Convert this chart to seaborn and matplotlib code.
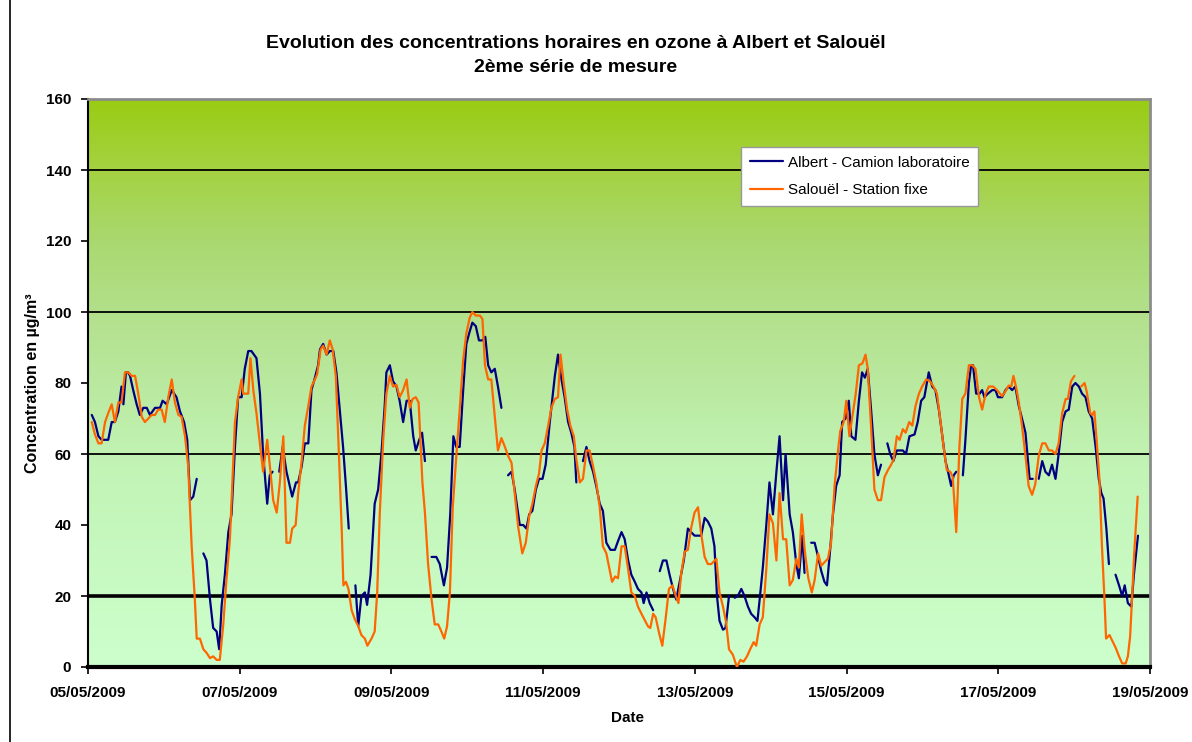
"""
Hourly ozone concentrations at Albert and Salouel, 2nd measurement series
"""
import numpy as np
import pandas as pd
import seaborn as sns
import matplotlib.pyplot as plt
import matplotlib.dates as mdates
from matplotlib.colors import LinearSegmentedColormap
from matplotlib.lines import Line2D


START = pd.Timestamp('2009-05-05')
END = pd.Timestamp('2009-05-19')

# hours after 05/05/2009 00:00 ; None marks a gap in the record
ALBERT_HOURS = [
    1.2, 2.2, 3.3, 4.3, 6.4, 7.5, 8.5, 9.6, 10.6, 11.2, 12.0, 12.7, 13.3, 14.3, 15.4, 16.4,
    17.5, 18.6, 19.6, 21.2, 22.8, 23.6, 24.9, 26.5, 28.0, 29.1, 30.4, 31.4, 32.3, 33.3, 34.4, None,
    36.5, 37.5, 38.6, 39.6, 40.7, 41.5, 42.3, 43.3, 44.4, 45.4, 46.5, 47.5, 48.6, 49.6, 50.7, 51.7,
    53.3, 54.4, 55.4, 56.7, 57.5, 58.4, None,
    60.5, 61.6, 62.8, 64.6, 65.8, 66.5, 67.6, 68.6, 69.7, 70.7, 71.8, 72.8, 73.4, 74.4, 75.5, 76.5,
    77.6, 78.6, 79.7, 80.7, 81.6, 82.5, None,
    84.6, 85.5, 86.5, 87.6, 88.3, 89.4, 90.7, 91.8, 92.9, 93.9, 94.4, 95.5, 96.5, 97.6, 98.6, 99.7,
    100.8, 101.8, 102.9, 103.7, 104.8, 105.7, 106.6, None,
    108.7, 110.2, 111.3, 112.6, 113.6, 114.6, 115.6, 116.5, 117.6, 118.7, 119.7, 120.6, 121.6, 122.7,
    123.7, 124.8, 125.7, 126.6, 127.6, 128.7, 129.7, 130.8, None,
    132.9, 134.0, 135.0, 136.6, 137.7, 138.7, 139.6, 140.6, 141.7, 142.7, 143.8, 144.8, 146.1, 147.7,
    148.7, 149.8, 150.8, 151.9, 152.9, 153.9, 154.5, None,
    156.6, 157.7, 158.7, 159.8, 160.8, 161.9, 162.9, 164.0, 165.3, 166.7, 167.7, 168.8, 169.8, 170.9,
    171.9, 173.0, 174.0, 175.1, 175.8, 176.7, 177.7, 178.8, None,
    180.9, 181.9, 183.0, 184.0, 185.1, 186.1, 187.2, 188.5, 189.8, 190.8, 191.9, 194.0, 195.1, 196.1,
    197.2, 198.2, 199.0, 199.8, 200.9, 201.7, 202.8, None,
    204.6, 205.6, 206.7, 207.7, 208.8, 209.8, 210.9, 211.8, 212.5, 213.5, 214.6, 215.6, 216.7, 217.8,
    218.8, 219.9, 220.7, 222.0, 223.0, 224.1, 224.9, 226.0, 226.7, None,
    228.8, 229.9, 231.0, 232.0, 233.0, 233.8, 234.8, 235.7, 236.7, 237.8, 238.6, 239.7, 240.7, 241.5,
    242.8, 243.9, 244.9, 245.8, 246.7, 247.8, 248.8, 249.9, 250.9, None,
    252.9, 253.8, 254.8, 255.9, 257.8, 258.8, 259.9, 261.5, 262.5, 263.6, 264.6, 266.0, 267.1, 268.1,
    269.2, 270.3, 271.3, 272.1, 273.1, 273.9, 274.7, None,
    276.8, 277.6, 278.7, 279.4, 280.0, 281.0, 282.1, 282.9, 283.6, 284.7, 286.1, 287.1, 287.9, 289.2,
    290.3, 291.3, 292.4, 293.4, 294.5, 295.5, 296.6, 297.3, 297.9, 298.9, None,
    300.8, 301.9, 302.9, 304.0, 305.0, 306.1, 307.1, 308.2, 309.3, 310.3, 311.4, 312.4, 313.5, 314.5,
    315.6, 316.6, 317.7, 318.8, 319.8, 320.6, 321.3, 322.2, 323.0, None,
    325.1, 326.2, 327.2, 328.0, 329.0, 330.1, 330.9, 332.2,
]
ALBERT_VALUES = [
    71, 69, 65, 64, 64, 69, 69, 72, 79, 74, 83, 83, 82, 78, 74, 71,
    73, 73, 71, 73, 73, 75, 74, 78, 76, 72, 69, 64, 47, 48, 53, None,
    32, 30, 19, 11, 10, 5, 17.5, 26, 38, 43, 62, 76, 76, 84, 89, 89,
    87, 77, 60, 46, 54, 55, None,
    55, 62, 55, 48, 52, 52, 56.5, 63, 63, 78, 81.5, 85, 89.5, 91, 88, 89,
    89, 83, 72, 62, 51, 39, None,
    23, 11.5, 20, 21, 17.5, 26, 46, 50, 61, 74, 83, 85, 80.5, 79, 75, 69,
    75, 75, 65, 61, 64, 66, 58, None,
    31, 31, 29, 23, 28, 43, 65, 62, 62, 78, 91, 94, 97, 96,
    92, 92, 93, 85, 83, 84, 79, 73, None,
    54, 55, 50, 40, 40, 39, 43, 44, 50, 53, 53, 57, 69, 82,
    88, 81, 76, 69, 66, 62, 52, None,
    58, 62, 58, 55, 51, 46, 44, 35, 33, 33, 35.5, 38, 36, 30,
    26, 24, 22, 21, 18, 21, 18, 16, None,
    27, 30, 30, 26, 22, 19, 24, 30, 39, 38, 37, 37, 42, 41,
    39, 34, 20, 13, 10.5, 11, 20, None,
    19.5, 20, 22, 20, 17, 15, 14, 13, 19, 28, 40, 52, 43, 55,
    65, 47, 60, 43, 38, 29, 25, 37, 26.5, None,
    35, 35, 31, 27, 24, 23, 33, 43, 51, 54, 69, 70, 75, 65,
    64, 75, 83, 81.5, 84, 72, 60, 54, 57, None,
    63, 60, 58, 61, 61, 60, 65, 65.5, 69, 75, 76, 83, 79, 78,
    72.5, 65, 58, 55, 51, 54, 55, None,
    54, 64, 80, 85, 85, 77, 77, 78, 76, 77, 78, 78, 76, 76,
    78, 79, 78, 79, 73.5, 70, 66, 59, 53, 53, None,
    53, 58, 55, 54, 57, 53, 60, 69, 72, 72.5, 79, 80, 79, 77,
    76, 72, 70, 62, 53, 49, 47.5, 39, 29, None,
    26, 23, 20, 23, 18, 17, 26, 37,
]

SALOUEL_HOURS = [
    1.2, 2.2, 3.3, 4.3, 5.4, 6.4, 7.5, 8.5, 9.6, 10.6, 11.7, 12.8, 13.8, 14.9, 15.9, 17.0, 18.0,
    19.1, 20.1, 21.2, 22.2, 23.3, 24.3, 25.4, 26.5, 27.5, 28.6, 29.6, 30.7, 31.7, 32.8, 33.8, 34.4,
    35.4, 36.5, 37.5, 38.6, 39.6, 40.7, 41.7, 42.8, 43.8, 44.9, 45.9, 46.5, 47.5, 48.6, 49.1, 50.2,
    50.7, 51.4, 52.3, 53.3, 54.4, 55.4, 56.7, 57.5, 58.6, 59.7, 60.7, 61.8, 62.8, 63.9, 64.6, 65.7,
    66.5, 67.6, 68.6, 69.7, 70.7, 71.8, 72.5, 73.6, 74.4, 75.5, 76.5, 77.4, 78.4, 79.3, 80.3, 80.8,
    81.6, 82.4, 83.4, 84.4, 85.5, 86.5, 87.6, 88.4, 89.7, 90.7, 91.5, 92.3, 93.4, 94.4, 95.5, 96.5,
    97.6, 98.6, 99.7, 100.8, 101.8, 102.7, 103.7, 104.6, 105.0, 105.8, 106.6, 107.6, 108.7, 109.7,
    110.8, 111.8, 112.7, 113.6, 114.5, 115.4, 116.5, 117.6, 118.7, 119.7, 120.8, 121.6, 122.7, 124.0,
    124.8, 125.6, 126.6, 127.6, 128.7, 129.7, 130.8, 131.9, 132.9, 134.0, 135.0, 136.1, 137.4, 138.5,
    139.6, 140.6, 141.7, 142.7, 143.5, 144.5, 145.6, 146.6, 147.7, 148.7, 149.5, 150.5, 151.6, 152.6,
    153.7, 154.5, 155.6, 156.6, 157.7, 158.7, 159.8, 160.8, 161.9, 162.9, 164.0, 165.0, 165.8, 166.8,
    167.7, 168.8, 169.8, 170.9, 171.9, 173.0, 174.0, 175.1, 176.1, 177.2, 177.9, 178.8, 179.6, 180.7,
    181.7, 182.8, 183.8, 184.9, 186.0, 186.8, 187.7, 188.8, 189.8, 190.9, 191.9, 193.0, 194.0, 195.1,
    196.1, 197.2, 198.8, 199.8, 200.9, 201.9, 202.8, 204.0, 205.3, 206.4, 207.4, 208.5, 209.5, 210.6,
    211.4, 212.5, 213.5, 214.6, 215.6, 216.7, 217.8, 218.8, 219.9, 220.9, 222.0, 223.0, 224.1, 224.9,
    225.8, 226.8, 227.9, 229.0, 229.9, 231.0, 232.0, 233.0, 234.1, 235.1, 236.2, 237.3, 238.0, 239.1,
    239.9, 240.9, 242.0, 242.9, 243.9, 245.0, 246.0, 246.7, 247.8, 248.8, 249.9, 250.9, 252.0, 253.1,
    254.1, 254.9, 255.9, 256.8, 257.8, 258.7, 259.8, 260.8, 261.8, 262.9, 263.9, 265.2, 266.4, 267.5,
    268.6, 269.6, 270.7, 271.7, 272.8, 273.6, 274.7, 275.7, 276.6, 277.6, 278.7, 279.8, 280.8, 281.9,
    282.9, 284.0, 285.0, 286.4, 287.6, 289.2, 290.3, 291.3, 292.1, 292.8, 293.6, 294.5, 295.5, 296.6,
    297.6, 298.7, 299.7, 300.8, 301.9, 302.9, 304.0, 305.0, 306.1, 307.1, 308.2, 309.3, 310.0, 311.0,
    312.1, None,
    314.2, 315.3, 316.0, 317.1, 317.7, 318.4, 319.1, 320.0, 320.8, 321.6, 322.1, 323.2, 324.0, 325.1,
    326.2, 327.2, 328.3, 329.0, 329.7, 330.3, 331.0, 332.1,
]
SALOUEL_VALUES = [
    69, 65.5, 63, 63, 69, 71.5, 74, 69, 74.5, 74.5, 83, 83, 82, 82, 77, 70.5, 69,
    70, 71, 71, 72.5, 72.5, 69, 76, 81, 74.5, 71, 70.5, 65, 56.5, 34, 19, 8,
    8, 5, 4, 2.5, 3, 2, 2, 12, 24.5, 36, 56.5, 69, 76, 81, 77, 77,
    77, 87, 78, 71.5, 63, 55, 64, 57, 47, 43.5, 52, 65, 35, 35, 39, 40,
    49, 58, 68, 73.5, 79, 81, 82.5, 89.5, 90.5, 88, 92, 89.5, 82, 62, 38, 23,
    24, 22, 16, 13.5, 11.5, 9, 8, 6, 8, 10, 21, 43, 64, 77, 82, 79,
    79.5, 76, 78, 81, 73, 75.5, 76, 74.5, 67, 52, 43.5, 29, 19, 12,
    12, 10, 8, 11.5, 21, 45, 59, 72.5, 86.5, 94, 98.5, 100, 99, 99,
    98, 85, 81, 81, 70.5, 61, 64.5, 62, 59.5, 57.5, 49, 39.5, 32, 35,
    42.5, 46, 51, 54.5, 61, 63, 68, 73, 75.5, 76, 88, 80, 72.5, 68,
    65, 58.5, 52, 53, 61, 61, 56.5, 52, 45, 34, 32, 27.5, 24, 25.5,
    25, 34, 34, 27.5, 21, 20, 17, 15, 13.3, 11.4, 11, 15, 14, 9.5,
    6, 14, 22, 23, 20, 18, 26.5, 32.5, 33, 39.5, 43.5, 45, 37.5, 31,
    29, 29, 30.5, 21, 17, 12.5, 5, 3.5, 0, 2, 1.5, 3, 5, 7,
    6, 12, 14, 27.5, 43, 40.5, 30, 49, 36, 36, 23, 24.5, 30.5, 28,
    43, 32.5, 25, 21, 24.5, 32, 28.5, 29.5, 30.5, 35, 51, 61, 66.5, 69,
    75, 65, 71.5, 77, 85, 85.5, 88, 84, 67, 50, 47, 47, 53.5, 55.5,
    57, 58.5, 65, 64, 67, 66, 69, 68, 73.5, 77, 79, 81, 80.5, 79,
    77, 70, 62, 55.5, 55, 53.5, 38, 62, 75.5, 77, 85, 85, 84, 76,
    72.5, 77, 79, 79, 78, 76.3, 77.7, 79.3, 79, 82, 79, 74.5, 68, 59.5,
    51, 48.5, 51.5, 59.5, 63, 63, 61, 61, 60, 63, 71.5, 75.5, 75.5, 80.5,
    82, None,
    79, 80, 77.5, 71.5, 71, 72, 64, 53, 34, 19, 8, 9, 7.5, 5.5,
    3, 1, 1, 3, 8.5, 19, 32, 48,
]

SERIES = ['Albert - Camion laboratoire', 'Salouël - Station fixe']
COLORS = ['#000080', '#FF6600']
Y_TICKS = [0, 20, 40, 60, 80, 100, 120, 140, 160]
REF_LINES = [20, 60, 100, 140]


def to_frame(hours, values, name):
    rows, seg = [], 0
    for h, v in zip(hours, values):
        if h is None:
            seg += 1
            continue
        rows.append((START + pd.to_timedelta(h, unit='h'), v, name, seg))
    return pd.DataFrame(rows, columns=['date', 'value', 'station', 'segment'])


df = pd.concat([to_frame(ALBERT_HOURS, ALBERT_VALUES, SERIES[0]),
                to_frame(SALOUEL_HOURS, SALOUEL_VALUES, SERIES[1])], ignore_index=True)

sns.set_style("white")
plt.rcParams['font.family'] = ['Liberation Sans', 'DejaVu Sans']
plt.rcParams['text.color'] = 'black'

fig = plt.figure(figsize=(11.92, 7.42), dpi=100)
ax = fig.add_axes([88 / 1192, 75 / 742, 1062 / 1192, 568 / 742])

# gradient background (light green at the bottom, yellow-green on top)
bg = LinearSegmentedColormap.from_list('bg', [
    (0.0, '#CCFFCC'), (0.35, '#C2F4B6'), (0.6, '#B4E290'),
    (0.75, '#AAD870'), (0.88, '#A4D240'), (1.0, '#99CC14')])
x0, x1 = mdates.date2num(START), mdates.date2num(END)
ax.imshow(np.linspace(0, 1, 256).reshape(-1, 1), cmap=bg, origin='lower',
          extent=[x0, x1, 0, 160], aspect='auto', zorder=0)

for y in REF_LINES:
    ax.axhline(y, color='black', lw=2.6 if y == 20 else 1.3, zorder=1)

sns.lineplot(data=df, x='date', y='value', hue='station', units='segment',
             estimator=None, palette=COLORS, hue_order=SERIES, lw=1.6,
             legend=False, ax=ax, zorder=3)

ax.set_xlim(START, END)
ax.set_ylim(0, 160)
ax.set_yticks(Y_TICKS)
ax.xaxis.set_major_locator(mdates.DayLocator(interval=2))
ax.xaxis.set_major_formatter(mdates.DateFormatter('%d/%m/%Y'))
ax.tick_params(axis='both', direction='out', length=5, width=1.2, color='black',
               labelsize=11, bottom=True, left=True, labelcolor='black')
ax.tick_params(axis='x', pad=9)
ax.tick_params(axis='y', pad=7)
for lab in ax.get_xticklabels() + ax.get_yticklabels():
    lab.set_fontweight('bold')

for side in ['top', 'right']:
    ax.spines[side].set_color('#8c8c8c')
    ax.spines[side].set_linewidth(2)
ax.spines['left'].set_color('black')
ax.spines['left'].set_linewidth(1.5)
ax.spines['bottom'].set_color('black')
ax.spines['bottom'].set_linewidth(3)

ax.set_xlabel('Date', fontsize=11, fontweight='bold', color='black')
ax.set_ylabel('Concentration en µg/m³', fontsize=11.5, fontweight='bold', color='black')
ax.xaxis.set_label_coords(0.508, -0.077)
ax.yaxis.set_label_coords(-0.045, 0.5)

fig.text(576 / 1192, 1 - 43 / 742, 'Evolution des concentrations horaires en ozone à Albert et Salouël',
         ha='center', va='center', fontsize=14, fontweight='bold')
fig.text(576 / 1192, 1 - 68 / 742, '2ème série de mesure',
         ha='center', va='center', fontsize=14, fontweight='bold')

handles = [Line2D([], [], color=c, lw=1.6) for c in COLORS]
leg = ax.legend(handles, SERIES, loc='upper left', bbox_to_anchor=(0.615, 0.915),
                frameon=True, fancybox=False, fontsize=11, handlelength=2.2,
                handletextpad=0.3, labelspacing=0.9, borderpad=0.55, borderaxespad=0)
leg.get_frame().set_facecolor('white')
leg.get_frame().set_edgecolor('#999999')
leg.get_frame().set_linewidth(1)
leg.get_frame().set_alpha(1)
for t in leg.get_texts():
    t.set_color('black')

# outer chart frame
fig.add_artist(Line2D([10 / 1192, 10 / 1192], [0, 1], color='black', lw=1.2,
                      transform=fig.transFigure))

fig.savefig('out.png', dpi=100)
